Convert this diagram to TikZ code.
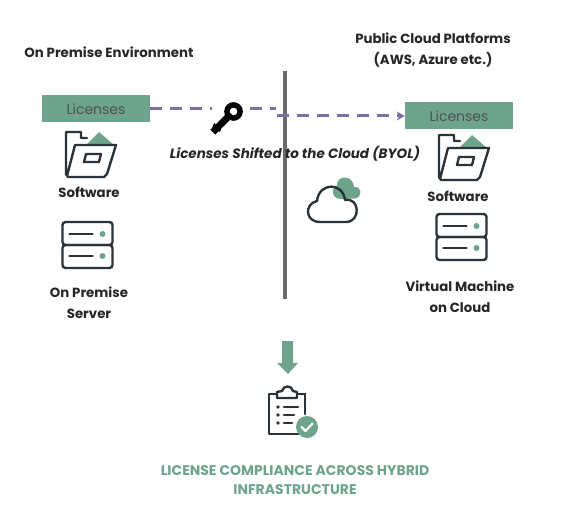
\documentclass[tikz,border=0pt]{standalone}
\usepackage{fontspec}
\setmainfont{Poppins}
\usetikzlibrary{arrows.meta}
\definecolor{sage}{HTML}{6FA48C}
\definecolor{ink}{HTML}{2B3338}
\definecolor{dashc}{HTML}{7D6FA3}
\definecolor{rulec}{HTML}{6A6A6A}
\tikzset{
  lic/.style={fill=sage,minimum width=108pt,minimum height=27pt,inner sep=0pt,text=ink!85,font=\fontsize{14}{16}\selectfont},
  lbl/.style={font=\fontsize{13.3}{21}\selectfont\bfseries,text=black!85,align=center,inner sep=0pt},
  icon/.style={draw=ink,line width=2.4pt,line join=round,line cap=round},
  link/.style={dashc,line width=3pt,dash pattern=on 12pt off 8pt},
  folder/.pic={
    \fill[sage] (20,13) -- (48,13) -- (33,0) -- cycle;
    \draw[icon] (21,6) -- (15,6) -- (15,0) -- (0,0) -- (0,42) -- (2,45) -- (38,45) -- (41,42) -- (50,13) -- (9,13) -- (1,44);
    \draw[icon] (20,22) -- (35,22) -- (33,30) -- (18,30) -- cycle;
  },
  serverpic/.pic={
    \draw[icon,rounded corners=3pt] (-25,-23) rectangle (25,0);
    \draw[icon,rounded corners=3pt] (-25,0) rectangle (25,23);
    \draw[icon] (-18,-11) -- (5,-11);
    \draw[icon] (-18,11) -- (5,11);
    \fill[sage] (15,-11) circle (3pt);
    \fill[sage] (15,11) circle (3pt);
  }
}
\begin{document}
\begin{tikzpicture}[x=1pt,y=-1pt]
\useasboundingbox (0,0) rectangle (572,529);
\fill[white] (0,0) rectangle (572,529);
% divider
\coordinate (divT) at (285,71);
\coordinate (divB) at (285,299);
\draw[rulec,line width=4.5pt] (divT) -- (divB);
% headings
\node[lbl] (envL) at (109,52) {On Premise Environment};
\node[lbl] (envR) at (433,50) {Public Cloud Platforms\\(AWS, Azure etc.)};
% license boxes
\node[lic] (licL) at (96,109) {Licenses};
\node[lic] (licR) at (459,116) {Licenses};
% connectors
\coordinate (stepA) at (276,109);
\coordinate (stepB) at (277,116);
\draw[link] (licL.east) -- (stepA);
\draw[link,-{Stealth[length=8pt,width=9pt]}] (stepB) -- (licR.west);
% key
\node[fill=white,inner sep=0pt,minimum width=32pt,minimum height=36pt] (key) at (228,117) {};
\begin{scope}[shift={(227,118)}]
  \draw[black,line width=5.4pt] (6.5,-6.5) circle (6.6pt);
  \fill[black,rotate=-45] (-3.5,-6) -- (3.5,-6) -- (3.5,20) -- (-3.5,20) -- cycle;
  \fill[black] (-13,5) -- (-6,12) -- (-8,14) -- (-9,12.5) -- (-11,15) -- (-12.5,14) -- (-11,11.5) -- (-13,13) -- (-15,10.5) -- cycle;
\end{scope}
\node[font=\fontsize{13.5}{16}\selectfont\bfseries\itshape,text=black!85,inner sep=0pt] (shift) at (295,154) {Licenses Shifted to the Cloud (BYOL)};
% left column
\pic at (66,132) {folder};
\node[lbl] (swL) at (89,192) {Software};
\pic at (87.5,245) {serverpic};
\node[lbl] (srvL) at (89,303) {On Premise\\Server};
% right column
\pic at (439,135) {folder};
\node[lbl] (swR) at (458,196) {Software};
\pic at (461.5,237) {serverpic};
\node[lbl] (srvR) at (460,297) {Virtual Machine\\on Cloud};
% cloud
\fill[sage] (341,199) .. controls (333,199) and (329,190) .. (337,186) .. controls (336,175) and (353,174) .. (354,187) .. controls (362,186) and (363,197) .. (355,198.5) -- cycle;
\draw[icon,fill=none] (320,222) .. controls (305,222) and (304,204) .. (317,201) .. controls (319,182) and (343,182) .. (345,200)
  .. controls (360,197) and (361,222) .. (346,222) -- cycle;
% down arrow
\fill[sage] (282,341) -- (293,341) -- (293,363) -- (298,363) -- (288,374) -- (277,363) -- (282,363) -- cycle;
% clipboard
\draw[icon] (277,394) -- (269,394) -- (269,434) -- (300,434);
\draw[icon] (305,394) -- (297,394);
\draw[icon] (305,394) -- (305,414);
\draw[icon] (277,398) -- (277,392) -- (282,391) .. controls (283,385) and (292,385) .. (293,391) -- (297,392) -- (297,398) -- cycle;
\foreach \yy/\xe in {407/298,415/294,423/292}{
  \fill[ink] (278,\yy) circle (1.8pt);
  \draw[icon] (284,\yy) -- (\xe,\yy);
}
\fill[sage] (307,427) circle (11pt);
\draw[white,line width=2.2pt,line cap=round,line join=round] (301.5,427) -- (305.5,431) -- (312.5,423.5);
% result
\node[font=\fontsize{14}{19}\selectfont\bfseries,text=sage,align=center,inner sep=0pt] (res) at (295,480) {LICENSE COMPLIANCE ACROSS HYBRID\\INFRASTRUCTURE};
\end{tikzpicture}
\end{document}
